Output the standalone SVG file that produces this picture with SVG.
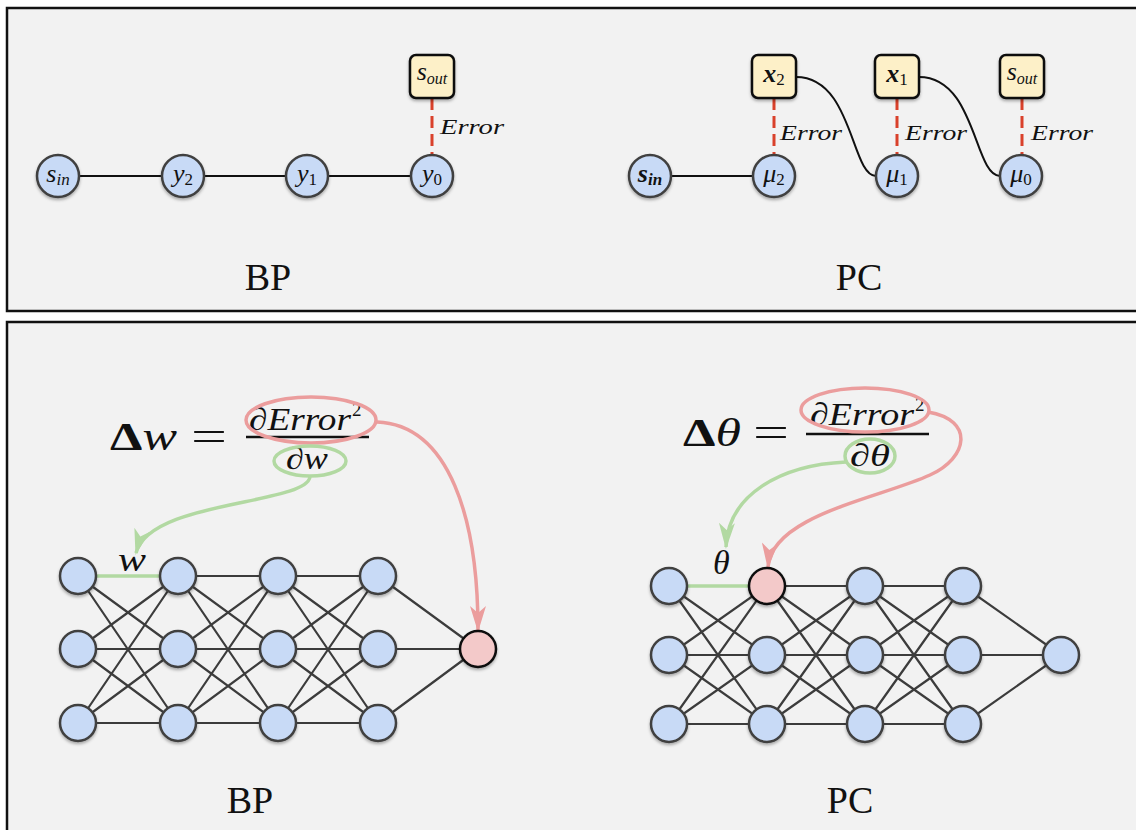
<svg xmlns="http://www.w3.org/2000/svg" width="1136" height="830" viewBox="0 0 1136 830">
  <defs>
    <filter id="shadow" x="-30%" y="-30%" width="160%" height="170%">
      <feDropShadow dx="0" dy="2" stdDeviation="1.5" flood-color="#000" flood-opacity="0.3"/>
    </filter>
    <marker id="headPink" markerUnits="userSpaceOnUse" markerWidth="26" markerHeight="16" viewBox="0 0 26 16" refX="24" refY="8" orient="auto">
      <path d="M0,0 L26,8 L0,16 L7,8 z" fill="#eb9d9d"/>
    </marker>
    <marker id="headGreen" markerUnits="userSpaceOnUse" markerWidth="26" markerHeight="16" viewBox="0 0 26 16" refX="24" refY="8" orient="auto">
      <path d="M0,0 L26,8 L0,16 L7,8 z" fill="#b2d9a2"/>
    </marker>
    <style>
      .panel { fill: #f2f2f2; stroke: #111; stroke-width: 2.5; }
      .node { fill: #c8daf6; stroke: #404040; stroke-width: 2.5; filter: url(#shadow); }
      .hot { fill: #f3c9c9; stroke: #111; stroke-width: 2.5; filter: url(#shadow); }
      .box { fill: #fdf0c8; stroke: #111; stroke-width: 2.5; filter: url(#shadow); }
      .link { fill: none; stroke: #111; stroke-width: 2; }
      .err { fill: none; stroke: #d9412b; stroke-width: 3; stroke-dasharray: 12 6; }
      .net { fill: none; stroke: #3c3c3c; stroke-width: 2.2; }
      .math { font-family: "Liberation Serif", "DejaVu Serif", serif; font-style: italic; fill: #111; }
      .up { font-style: normal; }
      .lbl { font-size: 26px; text-anchor: middle; }
      .sub { font-size: 17px; }
      .errtxt { font-size: 22px; }
      .title { font-family: "Liberation Serif", "DejaVu Serif", serif; font-size: 38px; fill: #111; text-anchor: middle; }
      .pinkline { fill: none; stroke: #eb9d9d; stroke-width: 3.5; }
      .greenline { fill: none; stroke: #b2d9a2; stroke-width: 3.5; }
    </style>
  </defs>

  <!-- panels -->
  <rect class="panel" x="7" y="8" width="1140" height="303"/>
  <rect class="panel" x="7" y="322" width="1140" height="520"/>

  <!-- ===== top left: BP chain ===== -->
  <g id="bp-chain-links">
    <path class="link" d="M58,176 L432,176"/>
    <path class="err" d="M432,98 L432,155"/>
  </g>
  <g id="bp-s-in">
    <circle class="node" cx="58" cy="176" r="21"/>
    <text class="math lbl" x="58" y="182">s<tspan class="sub" dy="3">in</tspan></text>
  </g>
  <g id="bp-y2">
    <circle class="node" cx="183" cy="176" r="21"/>
    <text class="math lbl" x="183" y="182">y<tspan class="up sub" dy="3">2</tspan></text>
  </g>
  <g id="bp-y1">
    <circle class="node" cx="307" cy="176" r="21"/>
    <text class="math lbl" x="307" y="182">y<tspan class="up sub" dy="3">1</tspan></text>
  </g>
  <g id="bp-y0">
    <circle class="node" cx="432" cy="176" r="21"/>
    <text class="math lbl" x="432" y="182">y<tspan class="up sub" dy="3">0</tspan></text>
  </g>
  <g id="bp-s-out">
    <rect class="box" x="410" y="55" width="44" height="43" rx="6"/>
    <text class="math lbl" x="432" y="80" font-size="23">s<tspan font-size="16" dy="4">out</tspan></text>
  </g>
  <text class="math errtxt" x="440" y="134" textLength="64" lengthAdjust="spacingAndGlyphs">Error</text>
  <text class="title" x="268" y="290">BP</text>

  <!-- ===== top right: PC chain ===== -->
  <g id="pc-chain-links">
    <path class="link" d="M650,176 L774,176"/>
    <path class="link" d="M796,77 C853,77 851,176 876,176"/>
    <path class="link" d="M919,77 C976,77 974,176 1000,176"/>
    <path class="err" d="M774,98 L774,155"/>
    <path class="err" d="M897,98 L897,155"/>
    <path class="err" d="M1022,98 L1022,155"/>
  </g>
  <g id="pc-s-in">
    <circle class="node" cx="650" cy="176" r="21"/>
    <text class="math lbl" x="650" y="182" font-weight="bold">s<tspan class="sub" dy="3">in</tspan></text>
  </g>
  <g id="pc-mu2">
    <circle class="node" cx="774" cy="176" r="21"/>
    <text class="math lbl" x="774" y="182">μ<tspan class="up sub" dy="3">2</tspan></text>
  </g>
  <g id="pc-mu1">
    <circle class="node" cx="897" cy="176" r="21"/>
    <text class="math lbl" x="897" y="182">μ<tspan class="up sub" dy="3">1</tspan></text>
  </g>
  <g id="pc-mu0">
    <circle class="node" cx="1021" cy="176" r="21"/>
    <text class="math lbl" x="1021" y="182">μ<tspan class="up sub" dy="3">0</tspan></text>
  </g>
  <g id="pc-x2">
    <rect class="box" x="752" y="55" width="44" height="43" rx="6"/>
    <text class="math lbl" x="774" y="82" font-weight="bold">x<tspan class="up sub" dy="3" font-weight="normal">2</tspan></text>
  </g>
  <g id="pc-x1">
    <rect class="box" x="875" y="55" width="44" height="43" rx="6"/>
    <text class="math lbl" x="897" y="82" font-weight="bold">x<tspan class="up sub" dy="3" font-weight="normal">1</tspan></text>
  </g>
  <g id="pc-s-out">
    <rect class="box" x="1000" y="55" width="44" height="43" rx="6"/>
    <text class="math lbl" x="1022" y="80" font-size="23">s<tspan font-size="16" dy="4">out</tspan></text>
  </g>
  <text class="math errtxt" x="780" y="140" textLength="62" lengthAdjust="spacingAndGlyphs">Error</text>
  <text class="math errtxt" x="905" y="140" textLength="62" lengthAdjust="spacingAndGlyphs">Error</text>
  <text class="math errtxt" x="1031" y="140" textLength="62" lengthAdjust="spacingAndGlyphs">Error</text>
  <text class="title" x="859" y="290">PC</text>

  <!-- ===== bottom left: BP network ===== -->
  <g id="bp-formula">
    <text class="math" x="110" y="450" font-size="40" textLength="67" lengthAdjust="spacingAndGlyphs"><tspan class="up" font-weight="bold">Δ</tspan>w</text>
    <text class="math up" x="191" y="450" font-size="42" textLength="36" lengthAdjust="spacingAndGlyphs">=</text>
    <text class="math" x="249" y="430" font-size="32" textLength="102" lengthAdjust="spacingAndGlyphs">∂Error</text>
    <text class="math up" x="352" y="416" font-size="19">2</text>
    <line x1="246" y1="437" x2="369" y2="437" stroke="#111" stroke-width="2.5"/>
    <text class="math" x="286" y="469" font-size="32" textLength="42" lengthAdjust="spacingAndGlyphs">∂w</text>
  </g>
  <g id="bp-net-links">
    <path class="net" d="M78,576L178,576M78,576L178,649M78,576L178,723M78,649L178,576M78,649L178,649M78,649L178,723M78,723L178,576M78,723L178,649M78,723L178,723"/>
    <path class="net" d="M178,576L278,576M178,576L278,649M178,576L278,723M178,649L278,576M178,649L278,649M178,649L278,723M178,723L278,576M178,723L278,649M178,723L278,723"/>
    <path class="net" d="M278,576L378,576M278,576L378,649M278,576L378,723M278,649L378,576M278,649L378,649M278,649L378,723M278,723L378,576M278,723L378,649M278,723L378,723"/>
    <path class="net" d="M378,576L478,649M378,649L478,649M378,723L478,649"/>
    <path class="greenline" d="M96,576 L160,576"/>
    <ellipse class="pinkline" cx="311" cy="420" rx="65" ry="23"/>
    <ellipse class="greenline" cx="310" cy="461" rx="36" ry="15"/>
    <path class="pinkline" d="M377,422 C450,425 478,520 478,630" marker-end="url(#headPink)"/>
    <path class="greenline" d="M310,477 C305,505 150,500 136,553" marker-end="url(#headGreen)"/>
  </g>
  <g id="bp-net-nodes">
    <circle class="node" cx="78" cy="576" r="18"/>
    <circle class="node" cx="78" cy="649" r="18"/>
    <circle class="node" cx="78" cy="723" r="18"/>
    <circle class="node" cx="178" cy="576" r="18"/>
    <circle class="node" cx="178" cy="649" r="18"/>
    <circle class="node" cx="178" cy="723" r="18"/>
    <circle class="node" cx="278" cy="576" r="18"/>
    <circle class="node" cx="278" cy="649" r="18"/>
    <circle class="node" cx="278" cy="723" r="18"/>
    <circle class="node" cx="378" cy="576" r="18"/>
    <circle class="node" cx="378" cy="649" r="18"/>
    <circle class="node" cx="378" cy="723" r="18"/>
    <circle class="hot" cx="478" cy="649" r="18"/>
  </g>
  <text class="math" x="118" y="571" font-size="34" textLength="28" lengthAdjust="spacingAndGlyphs">w</text>
  <text class="title" x="250" y="813">BP</text>

  <!-- ===== bottom right: PC network ===== -->
  <g id="pc-formula">
    <text class="math" x="683" y="446" font-size="40" textLength="58" lengthAdjust="spacingAndGlyphs"><tspan class="up" font-weight="bold">Δ</tspan>θ</text>
    <text class="math up" x="753" y="446" font-size="42" textLength="36" lengthAdjust="spacingAndGlyphs">=</text>
    <text class="math" x="810" y="425" font-size="32" textLength="104" lengthAdjust="spacingAndGlyphs">∂Error</text>
    <text class="math up" x="915" y="411" font-size="19">2</text>
    <line x1="806" y1="434" x2="929" y2="434" stroke="#111" stroke-width="2.5"/>
    <text class="math" x="850" y="466" font-size="32" textLength="40" lengthAdjust="spacingAndGlyphs">∂θ</text>
  </g>
  <g id="pc-net-links">
    <path class="net" d="M669,586L767,586M669,586L767,655M669,586L767,724M669,655L767,586M669,655L767,655M669,655L767,724M669,724L767,586M669,724L767,655M669,724L767,724"/>
    <path class="net" d="M767,586L865,586M767,586L865,655M767,586L865,724M767,655L865,586M767,655L865,655M767,655L865,724M767,724L865,586M767,724L865,655M767,724L865,724"/>
    <path class="net" d="M865,586L963,586M865,586L963,655M865,586L963,724M865,655L963,586M865,655L963,655M865,655L963,724M865,724L963,586M865,724L963,655M865,724L963,724"/>
    <path class="net" d="M963,586L1061,655M963,655L1061,655M963,724L1061,655"/>
    <path class="greenline" d="M687,586 L749,586"/>
    <ellipse class="pinkline" cx="865" cy="410" rx="64" ry="22"/>
    <ellipse class="greenline" cx="870" cy="456" rx="25" ry="17"/>
    <path class="pinkline" d="M928,412 C975,420 968,458 930,475 C880,498 772,515 768,567" marker-end="url(#headPink)"/>
    <path class="greenline" d="M846,462 C780,465 728,495 726,547" marker-end="url(#headGreen)"/>
  </g>
  <g id="pc-net-nodes">
    <circle class="node" cx="669" cy="586" r="18"/>
    <circle class="node" cx="669" cy="655" r="18"/>
    <circle class="node" cx="669" cy="724" r="18"/>
    <circle class="hot" cx="767" cy="586" r="18"/>
    <circle class="node" cx="767" cy="655" r="18"/>
    <circle class="node" cx="767" cy="724" r="18"/>
    <circle class="node" cx="865" cy="586" r="18"/>
    <circle class="node" cx="865" cy="655" r="18"/>
    <circle class="node" cx="865" cy="724" r="18"/>
    <circle class="node" cx="963" cy="586" r="18"/>
    <circle class="node" cx="963" cy="655" r="18"/>
    <circle class="node" cx="963" cy="724" r="18"/>
    <circle class="node" cx="1061" cy="655" r="18"/>
  </g>
  <text class="math" x="713" y="574" font-size="34">θ</text>
  <text class="title" x="850" y="813">PC</text>
</svg>
